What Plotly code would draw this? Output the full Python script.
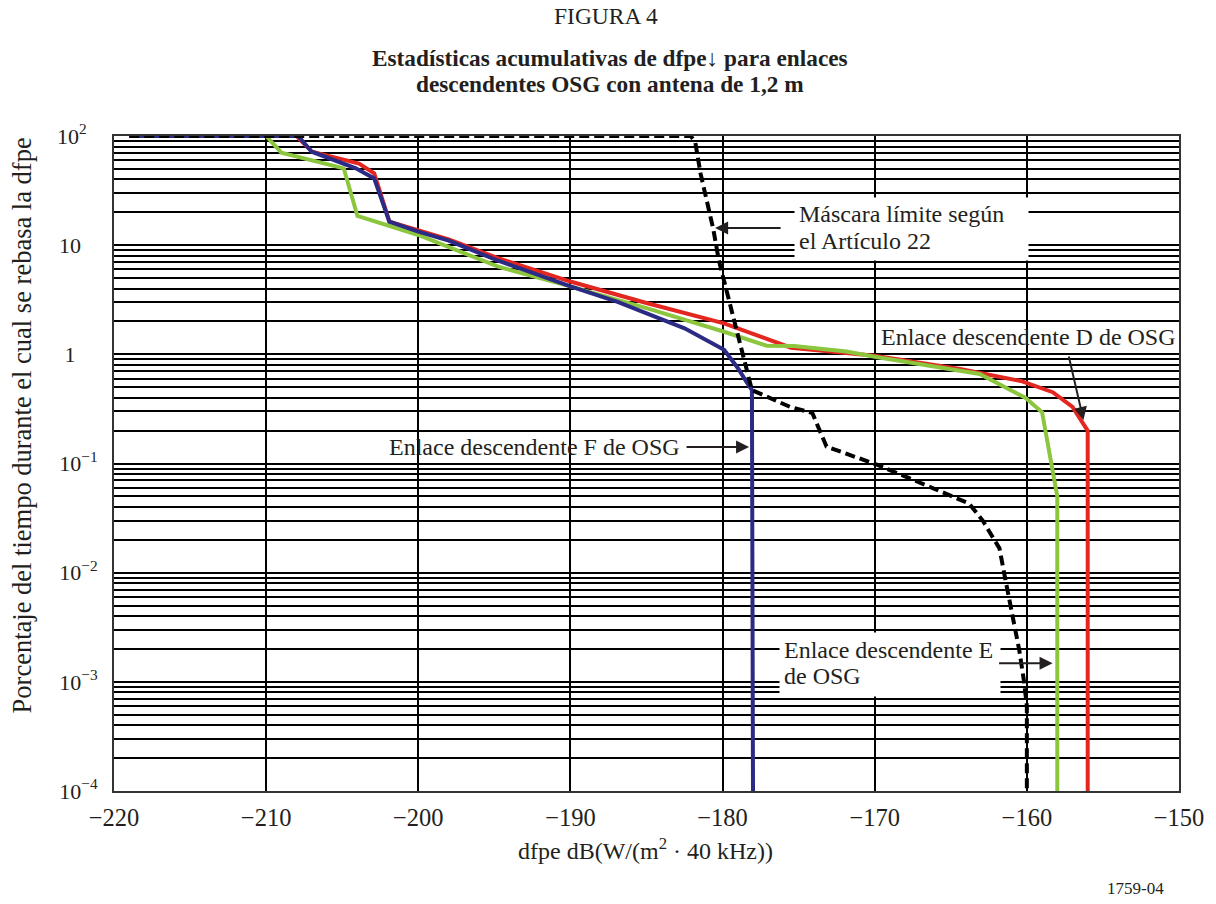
import plotly.graph_objects as go

# ---- data ----
mask_x = [-219.0, -182.1, -181.8, -181.45, -181.0, -180.6, -180.25, -179.8, -179.3, -178.7, -178.07,
          -175.56, -174.1, -173.17, -169.9, -167.7, -164.65, -163.8, -162.9, -161.8, -161.4, -160.95,
          -160.5, -160.2, -160.0, -160.0]
mask_y = [100, 100, 88.7, 45.5, 24.2, 13.8, 7.3, 4.17, 2.07, 1.02, 0.47,
          0.33, 0.29, 0.143, 0.098, 0.073, 0.048, 0.043, 0.030, 0.0167, 0.0085, 0.004,
          0.00195, 0.00104, 0.0006, 0.0001]

red_x = [-208.0, -207.0, -203.9, -202.9, -201.9, -200.0, -198.0, -194.75, -189.95, -185.0, -179.9,
         -175.5, -170.0, -164.3, -160.4, -158.3, -157.0, -156.1, -156.0, -156.0]
red_y = [100, 72, 56, 45.5, 16.4, 13.6, 11.3, 7.6, 4.62, 2.95, 1.92,
         1.15, 0.97, 0.73, 0.57, 0.45, 0.33, 0.21, 0.20, 0.0001]

green_x = [-210.0, -209.0, -204.9, -204.0, -200.0, -194.75, -189.95, -185.0, -179.9, -177.1, -175.3,
           -171.85, -170.0, -163.1, -160.1, -159.0, -158.0, -158.0]
green_y = [100, 70.3, 50.6, 18.5, 12.4, 6.35, 4.17, 2.65, 1.61, 1.2, 1.19,
           1.06, 0.95, 0.66, 0.40, 0.295, 0.05, 0.0001]

blue_x = [-219.0, -207.9, -207.0, -204.1, -202.9, -201.9, -200.0, -198.0, -194.75, -189.95, -186.9,
          -182.5, -179.9, -179.0, -178.5, -178.07, -178.0]
blue_y = [100, 100, 71.8, 50.6, 40.9, 16.4, 13.3, 11.0, 7.2, 4.17, 3.03,
          1.73, 1.10, 0.75, 0.58, 0.47, 0.0001]

NB = "\u00a0"
x_ticks = [-220, -210, -200, -190, -180, -170, -160, -150]
x_ticktext = ["\u2212220", "\u2212210", "\u2212200", "\u2212190", "\u2212180", "\u2212170", "\u2212160", "\u2212150"]
y_ticks = [1e-4, 1e-3, 1e-2, 1e-1, 1, 10, 100]
y_ticktext = ["10<sup>\u22124</sup>", "10<sup>\u22123</sup>", "10<sup>\u22122</sup>", "10<sup>\u22121</sup>",
              "1" + NB * 4, "10" + NB * 3, "10<sup>2</sup>" + NB * 2]

FONT = "Liberation Serif"
TXT = "#231f20"

fig = go.Figure()
fig.add_trace(go.Scatter(x=red_x, y=red_y, mode="lines", line=dict(color="#e3261f", width=4),
                         name="D", hoverinfo="skip"))
fig.add_trace(go.Scatter(x=green_x, y=green_y, mode="lines", line=dict(color="#8cc63e", width=4),
                         name="E", hoverinfo="skip"))
fig.add_trace(go.Scatter(x=blue_x, y=blue_y, mode="lines", line=dict(color="#2b2a85", width=4),
                         name="F", hoverinfo="skip"))
fig.add_trace(go.Scatter(x=mask_x, y=mask_y, mode="lines",
                         line=dict(color="black", width=4, dash="10px,5px"),
                         name="mask", hoverinfo="skip"))

PW, PH, PL, PT = 1070, 655, 114, 136


def px(xp):
    return (xp - PL) / PW


def py(yp):
    return 1 - (yp - PT) / PH


anns = []
# title lines
cx = px(612)
anns.append(dict(text="FIGURA 4", xref="paper", yref="paper", x=px(608), y=py(16),
                 showarrow=False, font=dict(size=23.5, family=FONT, color=TXT), xanchor="center", yanchor="middle"))
anns.append(dict(text="<b>Estadísticas acumulativas de dfpe\u2193 para enlaces</b>",
                 xref="paper", yref="paper", x=cx, y=py(58),
                 showarrow=False, font=dict(size=23.3, family=FONT, color=TXT), xanchor="center", yanchor="middle"))
anns.append(dict(text="<b>descendentes OSG con antena de 1,2 m</b>",
                 xref="paper", yref="paper", x=cx, y=py(84),
                 showarrow=False, font=dict(size=23.3, family=FONT, color=TXT), xanchor="center", yanchor="middle"))
# axis titles
anns.append(dict(text="Porcentaje del tiempo durante el cual se rebasa la dfpe", xref="paper", yref="paper",
                 x=px(22), y=py(425), textangle=-90, showarrow=False,
                 font=dict(size=26.5, family=FONT, color=TXT), xanchor="center", yanchor="middle"))
anns.append(dict(text="dfpe dB(W/(m<sup>2</sup> \u00b7 40 kHz))", xref="paper", yref="paper",
                 x=px(648), y=py(849), showarrow=False,
                 font=dict(size=24, family=FONT, color=TXT), xanchor="center", yanchor="middle"))
anns.append(dict(text="1759-04", xref="paper", yref="paper", x=px(1140), y=py(888),
                 showarrow=False, font=dict(size=17, family=FONT, color=TXT), xanchor="center", yanchor="middle"))

# labelled boxes
lab_font = dict(size=24, family=FONT, color=TXT)
# white backgrounds behind two of the labels
anns.append(dict(text=" ", xref="paper", yref="paper", x=px(797), y=py(197), xanchor="left", yanchor="top",
                 showarrow=False, bgcolor="white", width=233, height=62, borderpad=0, font=lab_font))
anns.append(dict(text=" ", xref="paper", yref="paper", x=px(782), y=py(632), xanchor="left", yanchor="top",
                 showarrow=False, bgcolor="white", width=220, height=63, borderpad=0, font=lab_font))

anns.append(dict(text="Máscara límite según", xref="paper", yref="paper", x=px(800), y=py(214),
                 xanchor="left", yanchor="middle", showarrow=False, font=lab_font))
anns.append(dict(text="el Artículo 22", xref="paper", yref="paper", x=px(800), y=py(241),
                 xanchor="left", yanchor="middle", showarrow=False, font=lab_font))
anns.append(dict(text="Enlace descendente D de OSG", xref="paper", yref="paper", x=px(1033), y=py(337),
                 xanchor="center", yanchor="middle", showarrow=False, font=lab_font))
anns.append(dict(text="Enlace descendente F de OSG", xref="paper", yref="paper", x=px(536), y=py(447),
                 xanchor="center", yanchor="middle", showarrow=False, font=lab_font))
anns.append(dict(text="Enlace descendente E", xref="paper", yref="paper", x=px(785), y=py(650),
                 xanchor="left", yanchor="middle", showarrow=False, font=lab_font))
anns.append(dict(text="de OSG", xref="paper", yref="paper", x=px(785), y=py(676),
                 xanchor="left", yanchor="middle", showarrow=False, font=lab_font))

# arrows
arr = dict(text="", showarrow=True, arrowhead=2, arrowsize=1.3, arrowwidth=2, arrowcolor=TXT,
           xref="x", yref="y", standoff=0)
anns.append(dict(arr, x=-180.49, y=1.157, ax=67, ay=0))
anns.append(dict(arr, x=-178.26, y=-0.849, ax=-64, ay=0))
anns.append(dict(arr, x=-156.28, y=-0.601, ax=-15, ay=-65))
anns.append(dict(arr, x=-158.31, y=-2.829, ax=-55, ay=0))

fig.update_layout(
    width=1216, height=904,
    margin=dict(l=114, r=32, t=136, b=113),
    paper_bgcolor="white", plot_bgcolor="white",
    showlegend=False,
    annotations=anns,
    font=dict(family=FONT, color=TXT),
)
fig.update_xaxes(range=[-220, -150], tickvals=x_ticks, ticktext=x_ticktext,
                 showgrid=True, gridcolor="black", gridwidth=1.5,
                 showline=True, linecolor="#333", linewidth=2, mirror=True,
                 zeroline=False, ticks="", ticklabelstandoff=4,
                 tickfont=dict(size=24.5, family=FONT, color=TXT))
fig.update_yaxes(type="log", range=[-4, 2], tickvals=y_ticks, ticktext=y_ticktext,
                 showgrid=True, gridcolor="black", gridwidth=1.5,
                 minor=dict(dtick="D1", showgrid=True, gridcolor="black", gridwidth=1.5, ticks=""),
                 showline=True, linecolor="#333", linewidth=2, mirror=True,
                 zeroline=False, ticks="", ticklabelstandoff=10,
                 tickfont=dict(size=22, family=FONT, color=TXT))

fig.write_html("out.html")
